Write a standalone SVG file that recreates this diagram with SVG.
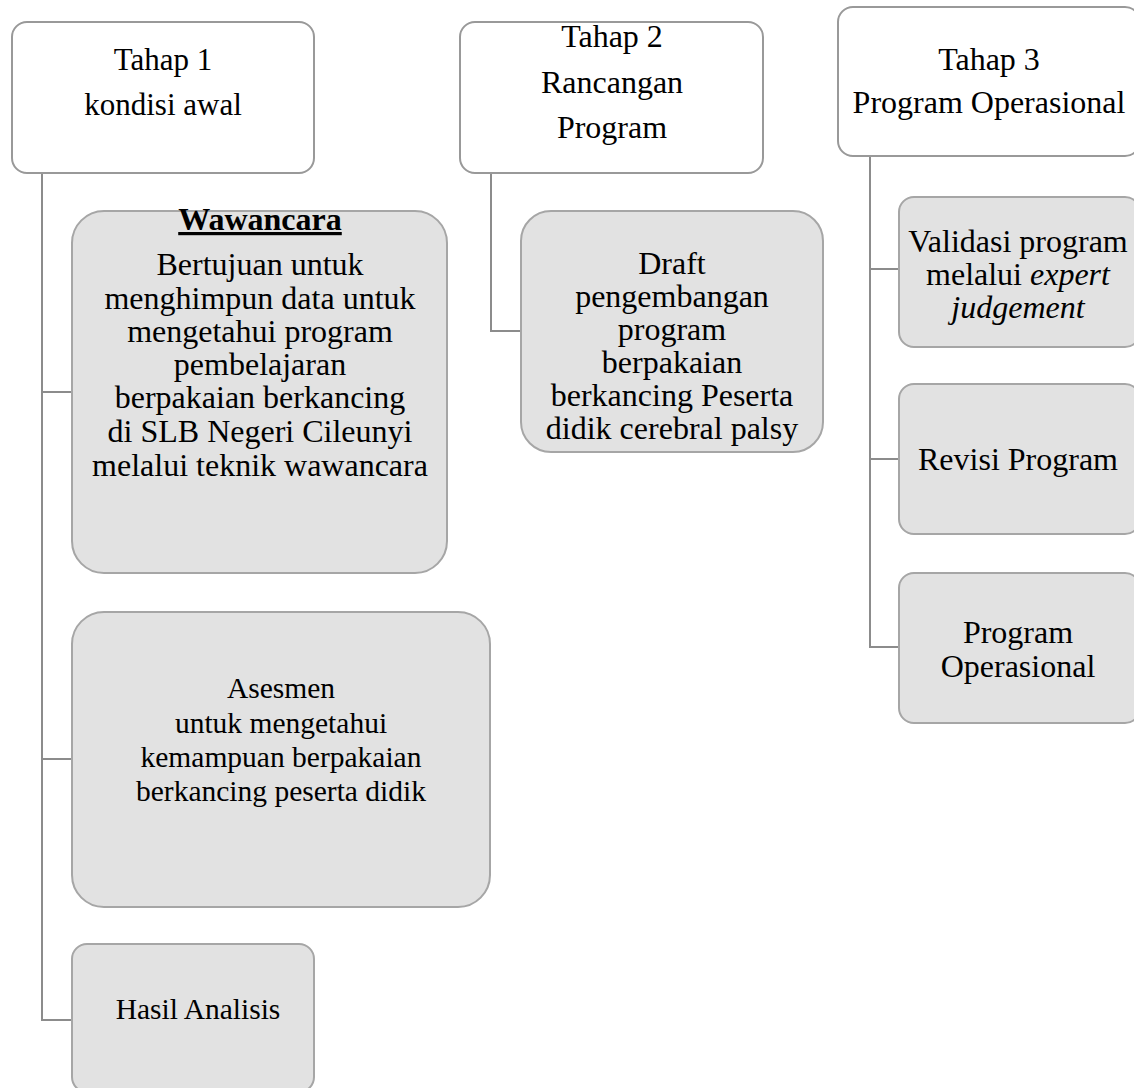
<svg xmlns="http://www.w3.org/2000/svg" width="1134" height="1088" viewBox="0 0 1134 1088">
<style>
.hdr{fill:#ffffff;stroke:#999999;stroke-width:2}
.box{fill:#e2e2e2;stroke:#a6a6a6;stroke-width:2}
.con{fill:none;stroke:#8c8c8c;stroke-width:2}
text{font-family:"Liberation Serif","Times New Roman",serif;font-size:32px;fill:#000;text-anchor:middle}
.s{font-size:29.5px}
.m{font-size:31px}
.b{font-weight:bold;text-decoration:underline}
.i{font-style:italic}
</style>
<rect width="1134" height="1088" fill="#ffffff"/>
<g id="connectors">
<path class="con" d="M42 173 V1020 H72 M42 392 H72 M42 759 H72"/>
<path class="con" d="M491 173 V331 H521"/>
<path class="con" d="M870 156 V647 H899 M870 269 H899 M870 459 H899"/>
</g>
<g id="tahap1">
<rect class="hdr" x="12" y="22" width="302" height="151" rx="15"/>
<text x="163" y="70" class="m">Tahap 1</text>
<text x="163" y="115" class="m">kondisi awal</text>
</g>
<g id="wawancara">
<rect class="box" x="72" y="211" width="375" height="362" rx="32"/>
<text x="260" y="230" class="b">Wawancara</text>
<text x="260" y="275">Bertujuan untuk</text>
<text x="260" y="309">menghimpun data untuk</text>
<text x="260" y="342">mengetahui program</text>
<text x="260" y="375">pembelajaran</text>
<text x="260" y="408">berpakaian berkancing</text>
<text x="260" y="442">di SLB Negeri Cileunyi</text>
<text x="260" y="476">melalui teknik wawancara</text>
</g>
<g id="asesmen">
<rect class="box" x="72" y="612" width="418" height="295" rx="32"/>
<text x="281" y="698" class="s">Asesmen</text>
<text x="281" y="733" class="s">untuk mengetahui</text>
<text x="281" y="767" class="s">kemampuan berpakaian</text>
<text x="281" y="801" class="s">berkancing peserta didik</text>
</g>
<g id="hasil">
<rect class="box" x="72" y="944" width="242" height="148" rx="15"/>
<text x="198" y="1019" class="s">Hasil Analisis</text>
</g>
<g id="tahap2">
<rect class="hdr" x="460" y="22" width="303" height="151" rx="15"/>
<text x="612" y="47">Tahap 2</text>
<text x="612" y="93">Rancangan</text>
<text x="612" y="138">Program</text>
</g>
<g id="draft">
<rect class="box" x="521" y="211" width="302" height="241" rx="30"/>
<text x="672" y="274">Draft</text>
<text x="672" y="307">pengembangan</text>
<text x="672" y="340">program</text>
<text x="672" y="373">berpakaian</text>
<text x="672" y="406">berkancing Peserta</text>
<text x="672" y="439">didik cerebral palsy</text>
</g>
<g id="tahap3">
<rect class="hdr" x="838" y="7" width="302" height="149" rx="15"/>
<text x="989" y="70">Tahap 3</text>
<text x="989" y="113">Program Operasional</text>
</g>
<g id="validasi">
<rect class="box" x="899" y="197" width="241" height="150" rx="15"/>
<text x="1018" y="252">Validasi program</text>
<text x="1018" y="285">melalui <tspan class="i">expert</tspan></text>
<text x="1018" y="318" class="i">judgement</text>
</g>
<g id="revisi">
<rect class="box" x="899" y="384" width="241" height="150" rx="15"/>
<text x="1018" y="470">Revisi Program</text>
</g>
<g id="operasional">
<rect class="box" x="899" y="573" width="241" height="150" rx="15"/>
<text x="1018" y="643">Program</text>
<text x="1018" y="677">Operasional</text>
</g>
</svg>
